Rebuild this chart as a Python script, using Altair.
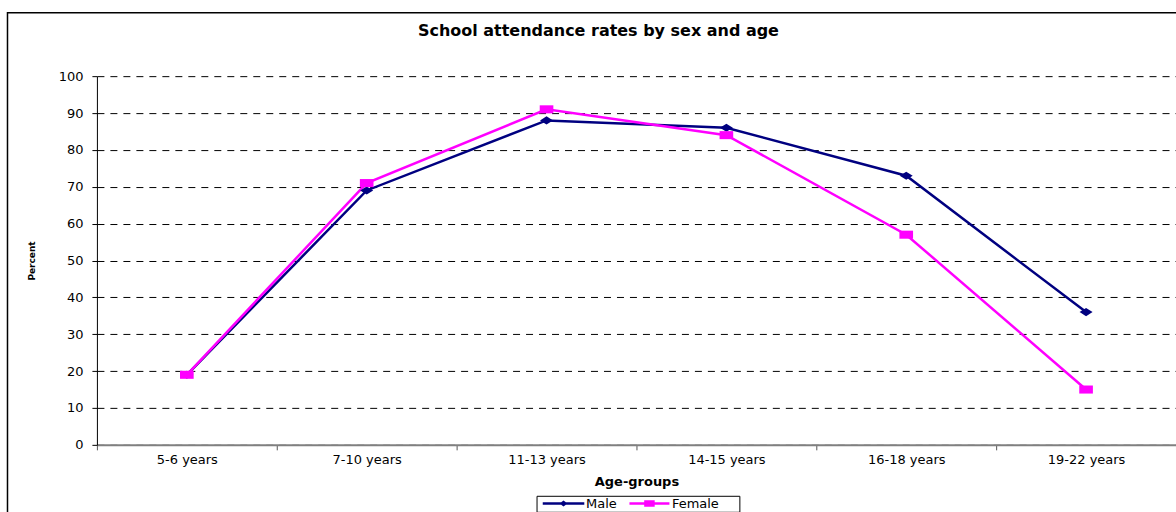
import altair as alt
import pandas as pd

# ---- data ----
ages = ["5-6 years", "7-10 years", "11-13 years", "14-15 years", "16-18 years", "19-22 years"]
male = [19, 69, 88, 86, 73, 36]
female = [19, 71, 91, 84, 57, 15]
series = ["Male", "Female"]
colors = ["#000080", "#FF00FF"]
y_ticks = [0, 10, 20, 30, 40, 50, 60, 70, 80, 90, 100]

rows = []
for s, vals in zip(series, [male, female]):
    for i, (a, v) in enumerate(zip(ages, vals)):
        rows.append({"age": a, "sex": s, "pct": v, "idx": i})
df = pd.DataFrame(rows)

FONT = "DejaVu Sans"
W, H = 1080, 369

# wide (stretched) marker shapes
diamond_path = "M-1,0L0,-0.62L1,0L0,0.62Z"
square_path = "M-1.05,-0.62H1.05V0.62H-1.05Z"

# legend symbols: line (thin filled bar) with marker in the middle
leg_male = "M-4.16,-0.25H4.16V0.25H-4.16ZM-0.8,0L0,-0.6L0.8,0L0,0.6Z"
leg_female = "M-4.0,-0.25H4.0V0.25H-4.0ZM-1.05,-0.65H1.05V0.65H-1.05Z"

legend = alt.Legend(
    title=None,
    orient="none",
    legendX=440,
    legendY=420,
    direction="horizontal",
    strokeColor="black",
    fillColor="white",
    padding=1,
    symbolSize=100,
    symbolStrokeWidth=0,
    symbolOpacity=1,
    symbolOffset=19.5,
    labelOffset=16,
    columnPadding=6,
    labelFont=FONT,
    labelFontSize=13,
    labelColor="black",
    labelExpr="datum.label == 'Female' ? datum.label + '\u2800\u2800' : datum.label",
)

x_enc = alt.X(
    "age:N",
    sort=ages,
    bandPosition=0.5,
    scale=alt.Scale(type="band", paddingInner=0, paddingOuter=0),
    axis=alt.Axis(
        title="Age-groups",
        titleFont=FONT,
        titleFontSize=13,
        titleFontWeight="bold",
        titleColor="black",
        titleY=41,
        titleBaseline="alphabetic",
        labelAngle=0,
        labelFont=FONT,
        labelFontSize=13,
        labelColor="black",
        labelPadding=4,
        tickBand="extent",
        tickSize=5,
        tickColor="#555555",
        domainColor="#808080",
        domainWidth=2,
        grid=False,
    ),
)

y_enc = alt.Y(
    "pct:Q",
    scale=alt.Scale(domain=[0, 100], nice=False),
    axis=alt.Axis(
        values=y_ticks,
        title="Percent",
        titleFont=FONT,
        titleFontSize=9,
        titleFontWeight="bold",
        titleColor="black",
        titleX=-65,
        titleY=H / 2,
        titleAlign="center",
        titleBaseline="middle",
        labelFont=FONT,
        labelFontSize=13,
        labelColor="black",
        labelPadding=9,
        tickSize=5,
        tickColor="black",
        domainColor="black",
        domainWidth=1,
        grid=True,
        gridColor="black",
        gridDash=[7, 6],
        gridWidth=1,
        gridOpacity=1,
    ),
)

color_scale = alt.Scale(domain=series, range=colors)

lines = alt.Chart(df).mark_line(strokeWidth=2.5).encode(
    x=x_enc,
    y=y_enc,
    color=alt.Color("sex:N", scale=color_scale, legend=None),
    order=alt.Order("idx:Q"),
)

points = alt.Chart(df).mark_point(filled=True, size=169, opacity=1, strokeWidth=0).encode(
    x=x_enc,
    y=y_enc,
    color=alt.Color("sex:N", scale=color_scale, legend=None),
    shape=alt.Shape(
        "sex:N",
        scale=alt.Scale(domain=series, range=[diamond_path, square_path]),
        legend=None,
    ),
)

# invisible layer that only carries the legend (line + marker symbols)
legend_layer = alt.Chart(df).transform_filter("false").mark_point(
    filled=True, opacity=1, strokeWidth=0
).encode(
    x=x_enc,
    y=y_enc,
    color=alt.Color("sex:N", title=None, scale=color_scale, legend=legend),
    shape=alt.Shape(
        "sex:N",
        title=None,
        scale=alt.Scale(domain=series, range=[leg_male, leg_female]),
        legend=legend,
    ),
)

border = alt.Chart(pd.DataFrame({"k": [0]})).mark_rect(
    fill="white", fillOpacity=0, stroke="black", strokeWidth=1.5
).encode(
    x=alt.value(-89.5), x2=alt.value(1200), y=alt.value(-63.5), y2=alt.value(520)
)

chart = alt.layer(border, lines, points, legend_layer).resolve_scale(
    color="independent", shape="independent"
).properties(
    width=W,
    height=H,
    title=alt.TitleParams(
        "School attendance rates by sex and age",
        font=FONT,
        fontSize=16,
        fontWeight="bold",
        color="black",
        anchor="middle",
        frame="group",
        baseline="bottom",
        dx=-38,
        offset=-43,
    ),
    autosize=alt.AutoSizeParams(type="none"),
    padding={"left": 97, "top": 76, "right": 0, "bottom": 67},
).configure(background="white", view=alt.ViewConfig(strokeWidth=0, strokeOpacity=0))

chart.save("out.html", embed_options={"renderer": "svg", "actions": False})
